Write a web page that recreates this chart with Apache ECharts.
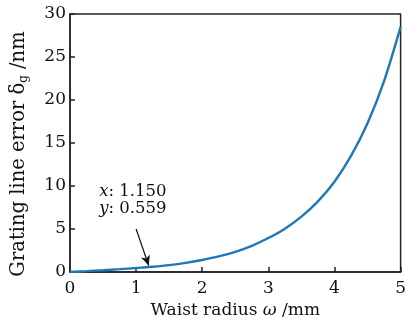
<!DOCTYPE html>
<html>
<head>
<meta charset="utf-8">
<script src="https://cdn.jsdelivr.net/npm/echarts@6/dist/echarts.min.js"></script>
<style>
  html, body { margin: 0; padding: 0; background: #fff; }
  #chart { width: 409px; height: 327px; }
</style>
</head>
<body>
<div id="chart"></div>
<script>
// waist radius (mm) and grating line error (nm)
const radius = [0, 0.25, 0.5, 0.75, 1, 1.15, 1.25, 1.5, 1.75, 2, 2.25, 2.5, 2.75, 3, 3.25, 3.5, 3.75, 4, 4.25, 4.5, 4.75, 5]
const lineError = [0, 0.1, 0.21, 0.33, 0.46, 0.559, 0.61, 0.8, 1.06, 1.4, 1.81, 2.35, 3.05, 3.95, 5.04, 6.44, 8.22, 10.5, 13.5, 17.3, 22.2, 28.5]
const marked = [1.15, 0.559]
const xTicks = [0, 1, 2, 3, 4, 5]
const yTicks = [0, 5, 10, 15, 20, 25, 30]

const font = 'DejaVu Serif'
const chart = echarts.init(document.getElementById('chart'))

chart.setOption({
  animation: false,
  grid: {
    left: 70, right: 3, top: 14, bottom: 55,
    show: true, borderColor: '#222', borderWidth: 1.5
  },
  xAxis: {
    type: 'value',
    min: xTicks[0], max: xTicks[xTicks.length - 1], interval: 1,
    name: 'Waist radius {i|ω} /mm',
    nameLocation: 'middle',
    nameGap: 30,
    nameTextStyle: {
      fontFamily: font, fontSize: 17, color: '#111',
      rich: { i: { fontFamily: font, fontStyle: 'italic', fontSize: 17, color: '#111' } }
    },
    axisLine: { lineStyle: { color: '#222', width: 1.5 } },
    axisTick: { inside: true, length: 5, lineStyle: { color: '#222', width: 1.5 } },
    axisLabel: { fontFamily: font, fontSize: 17, color: '#111', margin: 8 },
    splitLine: { show: false }
  },
  yAxis: {
    type: 'value',
    min: yTicks[0], max: yTicks[yTicks.length - 1], interval: 5,
    name: 'Grating line error δ{s|g} /nm',
    nameLocation: 'middle',
    nameGap: 40,
    nameTextStyle: {
      fontFamily: font, fontSize: 19.5, color: '#111',
      padding: [0, 22, 0, 0],
      rich: { s: { fontFamily: font, fontSize: 12, color: '#111', verticalAlign: 'bottom', padding: [10, 0, 0, 0] } }
    },
    axisLine: { lineStyle: { color: '#222', width: 1.5 } },
    axisTick: { inside: true, length: 5, lineStyle: { color: '#222', width: 1.5 } },
    axisLabel: { fontFamily: font, fontSize: 17, color: '#111', margin: 4 },
    splitLine: { show: false }
  },
  series: [{
    type: 'line',
    data: radius.map((x, i) => [x, lineError[i]]),
    smooth: 0.3,
    showSymbol: false,
    lineStyle: { color: '#1f78b6', width: 2.4 },
    markLine: {
      silent: true,
      symbol: ['none', 'arrow'],
      symbolSize: [7, 10],
      lineStyle: { color: '#111', width: 1.2, type: 'solid' },
      label: { show: false },
      data: [[{ coord: [1.0, 5.0] }, { coord: [marked[0] + 0.04, marked[1] + 0.2] }]]
    },
    markPoint: {
      silent: true,
      symbol: 'circle',
      symbolSize: 0,
      data: [{ coord: [0.95, 8.4] }],
      label: {
        show: true,
        formatter: '{i|x}: ' + marked[0].toFixed(3) + '\n{i|y}: ' + marked[1].toFixed(3),
        fontFamily: font, fontSize: 16.5, color: '#111', lineHeight: 17,
        rich: { i: { fontFamily: font, fontStyle: 'italic', fontSize: 16.5, color: '#111' } }
      }
    }
  }]
})
</script>
</body>
</html>
